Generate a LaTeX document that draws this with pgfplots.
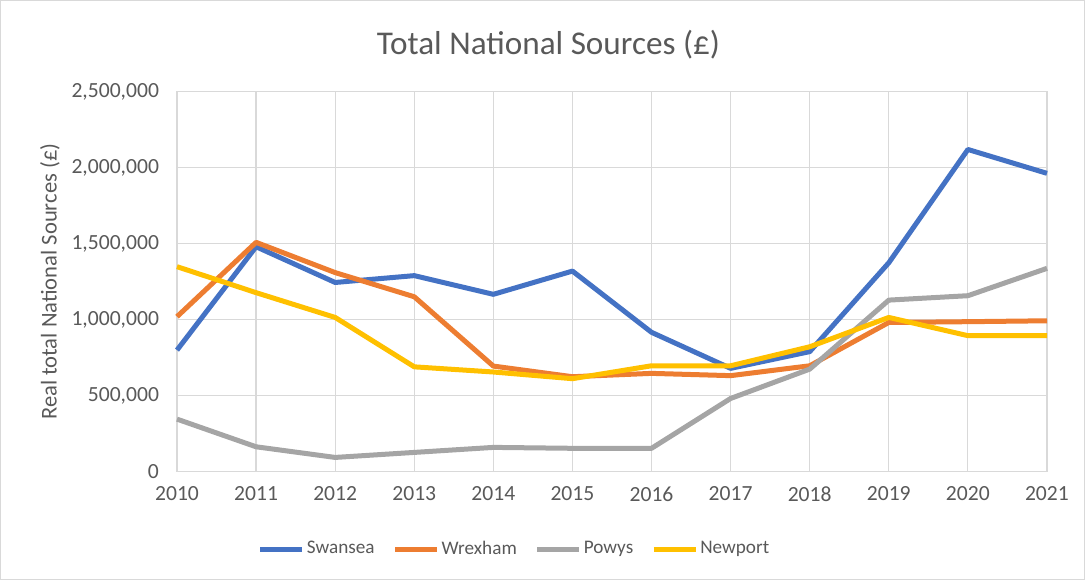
\documentclass[border=0pt]{standalone}
\usepackage{fontspec}
\setmainfont{Carlito}
\usepackage{pgfplots}
\pgfplotsset{compat=1.18}
\definecolor{cSw}{HTML}{4472C4}
\definecolor{cWr}{HTML}{ED7D31}
\definecolor{cPo}{HTML}{A5A5A5}
\definecolor{cNe}{HTML}{FFC000}
\definecolor{cGrid}{HTML}{D9D9D9}
\definecolor{cTxt}{HTML}{595959}
\begin{document}
\begin{tikzpicture}
\draw[cGrid, line width=0.5pt] (0.25pt,-0.25pt) rectangle (542.25pt,-289.75pt);
\node[text=cTxt, font=\fontsize{16.6}{20}\selectfont] at (274.25pt,-22.5pt) {Total National Sources (£)};
\begin{axis}[
  at={(88.5pt,-235.85pt)}, anchor=south west,
  scale only axis, width=435pt, height=190pt,
  xmin=2010, xmax=2021, ymin=0, ymax=2500000,
  xtick={2010,...,2021},
  ytick={0,500000,1000000,1500000,2000000,2500000},
  scaled y ticks=false,
  major tick length=0pt,
  tick style={draw=none},
  grid=major,
  grid style={cGrid, line width=0.65pt},
  axis line style={cGrid, line width=0.65pt},
  tick label style={text=cTxt, font=\fontsize{10.8}{13}\selectfont},
  /pgf/number format/assume math mode=true,
  yticklabel style={xshift=-5.5pt, /pgf/number format/.cd, fixed, 1000 sep={,}},
  xticklabel style={yshift=-4pt, /pgf/number format/.cd, 1000 sep={}},
  ylabel={Real total National Sources (£)},
  ylabel style={at={(axis description cs:-0.146,0.5)}, anchor=center, rotate=0, text=cTxt, font=\fontsize{11.3}{13}\selectfont},
  legend columns=4,
  legend style={draw=none, fill=none, at={(axis description cs:0.388,-0.204)}, anchor=center,
    font=\fontsize{9.6}{12}\selectfont, text=cTxt,
    /tikz/every even column/.append style={column sep=8pt},
    nodes={inner sep=1pt}},
  legend image code/.code={\draw[#1] (0pt,0pt) -- (21pt,0pt);},
  every axis plot/.append style={line width=2.5pt, line join=round},
  clip=false,
]
\addplot[cSw] coordinates {(2010,800000)(2011,1480000)(2012,1245000)(2013,1290000)(2014,1167000)(2015,1320000)(2016,917000)(2017,680000)(2018,790000)(2019,1375000)(2020,2120000)(2021,1963000)};
\addlegendentry{Swansea}
\addplot[cWr] coordinates {(2010,1020000)(2011,1509000)(2012,1310000)(2013,1151000)(2014,695000)(2015,625000)(2016,647000)(2017,632000)(2018,697000)(2019,982000)(2020,987000)(2021,993000)};
\addlegendentry{Wrexham}
\addplot[cPo] coordinates {(2010,346000)(2011,164000)(2012,94000)(2013,127000)(2014,160000)(2015,154000)(2016,154000)(2017,482000)(2018,675000)(2019,1129000)(2020,1158000)(2021,1338000)};
\addlegendentry{Powys}
\addplot[cNe] coordinates {(2010,1349000)(2011,1178000)(2012,1015000)(2013,690000)(2014,656000)(2015,612000)(2016,697000)(2017,697000)(2018,822000)(2019,1015000)(2020,895000)(2021,895000)};
\addlegendentry{Newport}
\end{axis}
\end{tikzpicture}
\end{document}
